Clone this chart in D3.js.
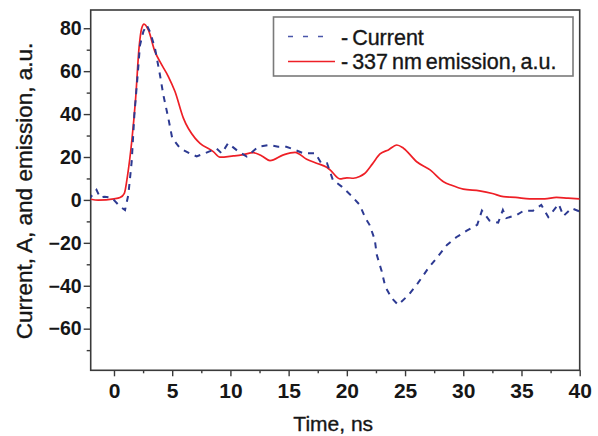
<!DOCTYPE html>
<html>
<head>
<meta charset="utf-8">
<script src="https://cdn.jsdelivr.net/npm/d3@7/dist/d3.min.js"></script>
<style>
  html, body { margin: 0; padding: 0; background: #fff; }
  svg { display: block; font-family: "Liberation Sans", Arial, sans-serif; }
</style>
</head>
<body>
<svg id="chart" width="598" height="436"></svg>
<script>
// Time axis (ns) and signals
const emissionTime = [-2, -1.35, 0, 0.52, 0.89, 1.17, 1.52, 1.86, 2.15, 2.38, 2.58, 2.95, 3.52, 3.95, 4.67, 5.24, 5.96, 6.96, 7.39, 8.53, 9.1, 10.25, 11.0, 11.97, 12.7, 13.4, 14.55, 15.55, 16.55, 17.4, 18.27, 18.56, 19.4, 20.0, 20.56, 21.1, 21.5, 22.2, 22.85, 23.57, 24.29, 24.86, 26.0, 27.15, 28.3, 29.0, 30.0, 31.4, 32.5, 33.45, 34.5, 35.7, 37, 38, 39, 40];
const emissionValues = [0.3, -0.1, 0.5, 1.1, 3.1, 11.6, 27, 47.4, 70.7, 80, 81.9, 79.2, 69.1, 64.4, 57.5, 50.5, 38.1, 28.8, 26.4, 22.5, 19.9, 20.5, 21, 22, 20.5, 18.3, 21, 22.2, 19, 17.1, 15.2, 14, 9.8, 10.3, 10.1, 10.9, 12.2, 16.8, 21.4, 23.3, 25.6, 24.1, 17.8, 14, 8.5, 6.8, 5, 4.2, 3, 1.5, 1.2, 0.5, 0.5, 1.2, 0.8, 0.5];

const currentTime = [-2.2, -1.5, -1.2, -0.8, -0.2, 0.52, 0.95, 1.23, 1.52, 1.75, 2.03, 2.23, 2.52, 2.8, 3.09, 3.52, 3.95, 4.24, 4.67, 5.0, 5.67, 6.5, 7.1, 7.8, 8.8, 9.25, 9.8, 10.7, 11.4, 12.4, 13.4, 14.1, 14.8, 15.55, 16.3, 17.3, 17.8, 18.3, 18.8, 19.56, 20.4, 21.1, 21.6, 21.95, 22.4, 22.57, 23.0, 23.3, 23.86, 24.4, 25.3, 26.1, 27.0, 27.7, 28.6, 29.4, 30.3, 31.2, 31.6, 32.25, 33.0, 33.4, 33.7, 34.6, 35.2, 36.0, 36.7, 37.3, 38.2, 38.6, 39.3, 40];
const currentValues = [0, 4.7, 1.1, 1.5, 1.1, -3.1, -4.7, 2.3, 17.8, 39.6, 58, 72, 78.4, 81.5, 78.4, 70.7, 58.2, 48.9, 38, 28.8, 24.1, 21.7, 20.3, 21.7, 24, 21.7, 26.4, 22.5, 20.2, 24.8, 25.6, 24.8, 24.8, 23.3, 21.7, 21.7, 17.1, 17.1, 9.3, 6.2, 1.9, -2.3, -8.5, -11.6, -18.6, -25.6, -33.4, -40.4, -45.8, -48.9, -44.3, -38.8, -31.8, -27.2, -21, -17.4, -14.3, -11.6, -5, -9.6, -10.6, -4.7, -8.5, -7, -5, -5, -2.3, -8, -1.9, -7.5, -3.9, -5.4];

const xMajorTicks = [0, 5, 10, 15, 20, 25, 30, 35, 40];
const xMinorTicks = [2.5, 7.5, 12.5, 17.5, 22.5, 27.5, 32.5, 37.5];
const yMajorTicks = [-60, -40, -20, 0, 20, 40, 60, 80];
const yMinorTicks = [-70, -50, -30, -10, 10, 30, 50, 70];

const legendLabels = ["- Current", "- 337 nm emission, a.u."];
const xTitle = "Time, ns";
const yTitle = "Current, A, and emission, a.u.";

const svg = d3.select("#chart");
const plotLeft = 90.7, plotRight = 579.7, plotTop = 10, plotBottom = 370.3;

const x = d3.scaleLinear().domain([-2, 40]).range([plotLeft, plotRight]);
const y = d3.scaleLinear().domain([-79.4, 88.5]).range([plotBottom, plotTop]);

const axisColor = "#3a3a3a";
const textColor = "#161616";

// clip region for curves
svg.append("defs").append("clipPath").attr("id", "plotClip")
  .append("rect").attr("x", plotLeft).attr("y", plotTop)
  .attr("width", plotRight - plotLeft).attr("height", plotBottom - plotTop);

// Bottom axis: major + minor ticks
const gx = svg.append("g").attr("transform", `translate(0,${plotBottom})`);
gx.call(d3.axisBottom(x).tickValues(xMajorTicks).tickSize(6).tickPadding(7).tickFormat(d3.format("d")));
gx.append("g").call(d3.axisBottom(x).tickValues(xMinorTicks).tickSize(3).tickFormat(""));
gx.selectAll(".domain").remove();
gx.selectAll("line").attr("stroke", axisColor).attr("stroke-width", 1.4);
gx.selectAll("text").attr("font-size", 21).attr("fill", textColor)
  .attr("font-weight", "bold").attr("dy", "0.71em");

// Left axis
const gy = svg.append("g").attr("transform", `translate(${plotLeft},0)`);
gy.call(d3.axisLeft(y).tickValues(yMajorTicks).tickSize(7).tickPadding(2).tickFormat(d3.format("d")));
gy.append("g").call(d3.axisLeft(y).tickValues(yMinorTicks).tickSize(4).tickFormat(""));
gy.selectAll(".domain").remove();
gy.selectAll("line").attr("stroke", axisColor).attr("stroke-width", 1.4);
gy.selectAll("text").attr("font-size", 19.5).attr("fill", textColor)
  .attr("font-weight", "bold");

// Frame around plot area
svg.append("rect").attr("x", plotLeft).attr("y", plotTop)
  .attr("width", plotRight - plotLeft).attr("height", plotBottom - plotTop)
  .attr("fill", "none").attr("stroke", axisColor).attr("stroke-width", 1.6);

const line = d3.line().x(d => x(d[0])).y(d => y(d[1])).curve(d3.curveMonotoneX);

const plot = svg.append("g").attr("clip-path", "url(#plotClip)");

plot.append("path")
  .datum(d3.zip(emissionTime, emissionValues))
  .attr("d", line)
  .attr("fill", "none").attr("stroke", "#ee1f26").attr("stroke-width", 1.7);

plot.append("path")
  .datum(d3.zip(currentTime, currentValues))
  .attr("d", d3.line().x(d => x(d[0])).y(d => y(d[1])))
  .attr("fill", "none").attr("stroke", "#2d3a92").attr("stroke-width", 2)
  .attr("stroke-dasharray", "6,6");

// Legend
const lg = svg.append("g");
lg.append("rect").attr("x", 273.5).attr("y", 17).attr("width", 299.5).attr("height", 59)
  .attr("fill", "#fff").attr("stroke", "#7a7a7a").attr("stroke-width", 1.6);
lg.append("line").attr("x1", 288).attr("x2", 330).attr("y1", 36.5).attr("y2", 36.5)
  .attr("stroke", "#4a56aa").attr("stroke-width", 1.6).attr("stroke-dasharray", "5,10");
lg.append("line").attr("x1", 288).attr("x2", 335).attr("y1", 61.5).attr("y2", 61.5)
  .attr("stroke", "#ee1f26").attr("stroke-width", 1.6);
lg.selectAll("text.lab").data(legendLabels).enter().append("text")
  .attr("class", "lab")
  .attr("x", 341).attr("y", (d, i) => 45 + i * 24)
  .attr("font-size", 21.5).attr("fill", textColor).attr("word-spacing", -2)
  .attr("stroke", textColor).attr("stroke-width", 0.35)
  .text(d => d);

// Axis titles
svg.append("text").attr("x", (plotLeft + plotRight) / 2 - 2).attr("y", 431)
  .attr("text-anchor", "middle").attr("font-size", 21).attr("fill", textColor)
  .attr("stroke", textColor).attr("stroke-width", 0.35)
  .text(xTitle);

svg.append("text").attr("transform", "translate(32,191) rotate(-90)")
  .attr("text-anchor", "middle").attr("font-size", 22.5).attr("fill", textColor)
  .attr("stroke", textColor).attr("stroke-width", 0.35)
  .text(yTitle);
</script>
</body>
</html>
